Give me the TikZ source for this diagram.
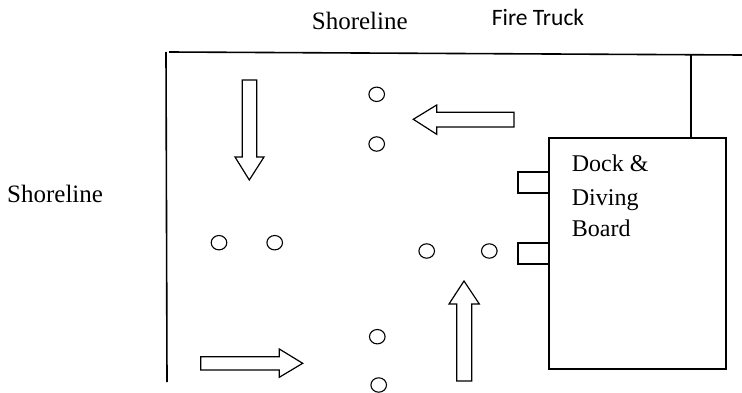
\documentclass[tikz,border=0pt]{standalone}
\usepackage{fontspec}
\setmainfont{Liberation Serif}
\newfontfamily\calib{Carlito}
\begin{document}
\begin{tikzpicture}[x=1pt,y=-1pt,
  shore/.style={line width=1.6pt},
  outline/.style={draw,line width=1.2pt,line join=miter},
  hole/.style={draw,line width=1.1pt},
  lbl/.style={inner sep=0pt,anchor=base west,font=\fontsize{25}{30}\selectfont},
  docklbl/.style={inner sep=0pt,anchor=base west,font=\fontsize{24}{30}\selectfont},
  sanslbl/.style={inner sep=0pt,anchor=base west,font=\calib\fontsize{23.5}{28}\selectfont}]
\useasboundingbox (0,0) rectangle (742,393);
% shorelines
\coordinate (tl) at (169,52);
\coordinate (tr) at (742,55);
\coordinate (lt) at (166,52);
\coordinate (lb) at (167,382);
\draw[shore] (tl) -- (tr);
\draw[shore] (lt) -- (lb);
% fire truck line
\coordinate (ft1) at (691,54.5);
\coordinate (ft2) at (691,138);
\draw[shore] (ft1) -- (ft2);
% dock
\draw[outline,line width=1.5pt] (549,138) rectangle (726,369);
\draw[outline,line width=1.5pt] (549,172) -- (518,172) -- (518,193) -- (549,193);
\draw[outline,line width=1.5pt] (549,243) -- (518,243) -- (518,264) -- (549,264);
% arrows
\draw[outline] (242.3,80) -- (256.7,80) -- (256.7,157) -- (264,157) -- (249.3,180) -- (235,157) -- (242.3,157) -- cycle;
\draw[outline] (514,112.3) -- (436.7,112.3) -- (436.7,105) -- (413.3,119.3) -- (436.7,134.3) -- (436.7,127) -- (514,127) -- cycle;
\draw[outline] (200.7,356.7) -- (279.3,356.7) -- (279.3,349) -- (302.7,363.3) -- (279.3,377.3) -- (279.3,370) -- (200.7,370) -- cycle;
\draw[outline] (456.7,381) -- (456.7,304) -- (449,304) -- (464,281) -- (479.3,304) -- (471.7,304) -- (471.7,381) -- cycle;
% circles
\foreach \cx/\cy in {376.7/94.3, 376.7/144, 219/242.7, 274.7/242.7, 426.7/251, 489.3/251, 377.3/336.7, 378.7/385}
  \draw[hole] (\cx,\cy) ellipse [x radius=7.8, y radius=7.2];
% labels
\node[lbl] (shoretop) at (311.7,30) {Shoreline};
\node[lbl] (shoreleft) at (7,202.5) {Shoreline};
\node[sanslbl] (firetruck) at (491.7,25.5) {Fire Truck};
\node[docklbl] (dock1) at (571.7,171.7) {Dock \&};
\node[docklbl] (dock2) at (571.7,205.5) {Diving};
\node[docklbl] (dock3) at (571.7,236.7) {Board};
\end{tikzpicture}
\end{document}
